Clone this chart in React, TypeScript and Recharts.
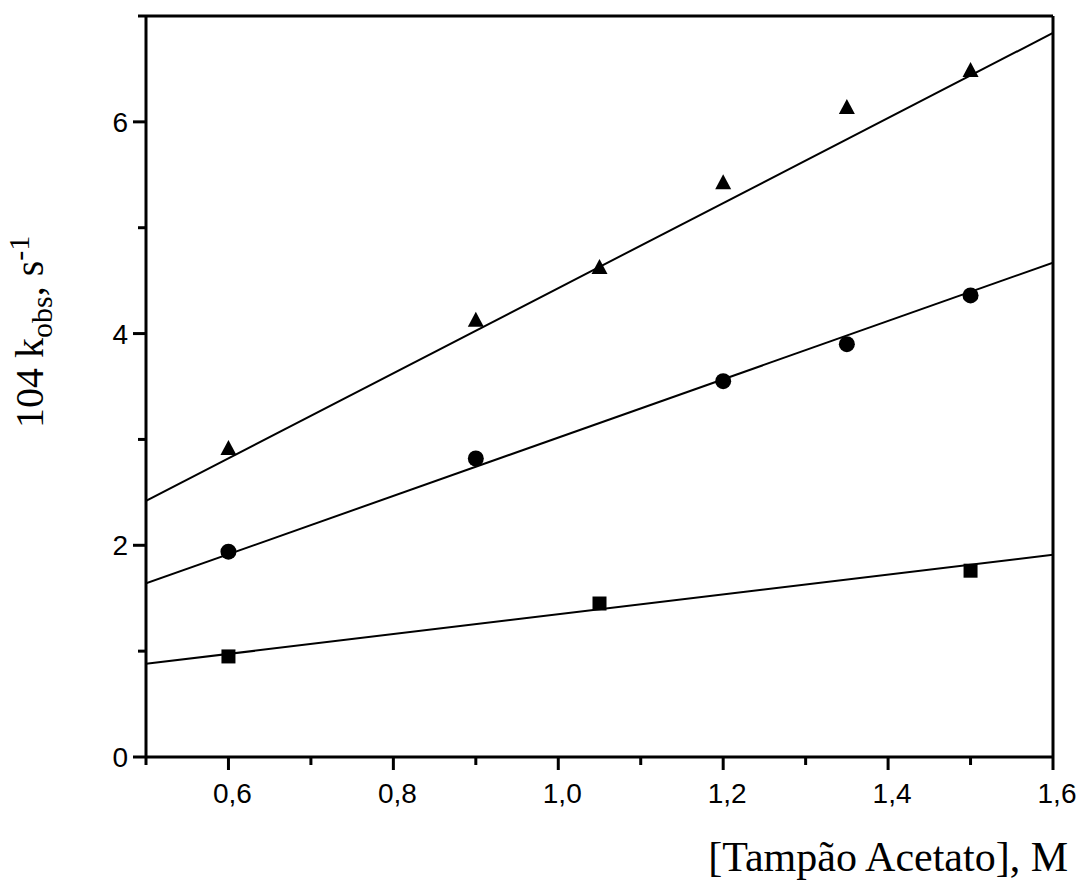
import React from 'react';
import {
  ComposedChart,
  Scatter,
  XAxis,
  YAxis,
  ReferenceLine,
  Label,
} from 'recharts';

// measured points
const triX = [0.6, 0.9, 1.05, 1.2, 1.35, 1.5];
const triY = [2.92, 4.13, 4.63, 5.43, 6.14, 6.49];
const circX = [0.6, 0.9, 1.2, 1.35, 1.5];
const circY = [1.94, 2.82, 3.55, 3.9, 4.36];
const sqX = [0.6, 1.05, 1.5];
const sqY = [0.95, 1.45, 1.76];

// fitted lines, endpoints at the axis limits
const fitX = [0.5, 1.6];
const fitTriY = [2.42, 6.84];
const fitCircY = [1.64, 4.67];
const fitSqY = [0.88, 1.91];

const xTicks = [0.5, 0.6, 0.7, 0.8, 0.9, 1.0, 1.1, 1.2, 1.3, 1.4, 1.5, 1.6];
const yTicks = [0, 1, 2, 3, 4, 5, 6, 7];

const toPoints = (xs: number[], ys: number[]) => xs.map((x, i) => ({ x, y: ys[i] }));

const triangles = toPoints(triX, triY);
const circles = toPoints(circX, circY);
const squares = toPoints(sqX, sqY);
const fitTri = toPoints(fitX, fitTriY);
const fitCirc = toPoints(fitX, fitCircY);
const fitSq = toPoints(fitX, fitSqY);

const tickFont = '"Liberation Sans", Arial, sans-serif';
const titleFont = '"Liberation Serif", "Times New Roman", serif';

const Triangle = (props: any) => {
  const { cx, cy } = props;
  return <path d={`M${cx},${cy - 8} L${cx + 8},${cy + 7} L${cx - 8},${cy + 7} Z`} fill="#000" />;
};
const Circle = (props: any) => <circle cx={props.cx} cy={props.cy} r={8} fill="#000" />;
const Square = (props: any) => (
  <rect x={props.cx - 7} y={props.cy - 7} width={14} height={14} fill="#000" />
);
const NoDot = () => <g />;

const XTick = (props: any) => {
  const { x, y, payload } = props;
  const major = Math.round(payload.value * 10) % 2 === 0;
  return (
    <g>
      <line x1={x} y1={y} x2={x} y2={y + (major ? 13 : 8)} stroke="#000" strokeWidth={3} />
      {major && (
        <text x={x + 4} y={y + 46} textAnchor="middle" fontFamily={tickFont} fontSize={28} fill="#000">
          {payload.value.toFixed(1).replace('.', ',')}
        </text>
      )}
    </g>
  );
};

const YTick = (props: any) => {
  const { x, y, payload } = props;
  const major = payload.value % 2 === 0;
  return (
    <g>
      <line x1={x} y1={y} x2={x - (major ? 13 : 8)} y2={y} stroke="#000" strokeWidth={3} />
      {major && (
        <text x={x - 18} y={y} dy="0.36em" textAnchor="end" fontFamily={tickFont} fontSize={28} fill="#000">
          {payload.value}
        </text>
      )}
    </g>
  );
};

export default function App() {
  return (
    <div style={{ position: 'absolute', left: 0, top: 0, background: '#fff' }}>
      <ComposedChart
        width={1084}
        height={884}
        margin={{ top: 16, right: 31, bottom: 0, left: 0 }}
      >
        <XAxis
          type="number"
          dataKey="x"
          domain={[0.5, 1.6]}
          ticks={xTicks}
          interval={0}
          allowDataOverflow
          height={127}
          tickSize={0}
          tickMargin={0}
          axisLine={{ stroke: '#000', strokeWidth: 3 }}
          tickLine={false}
          tick={<XTick />}
        >
          <Label
            content={(p: any) => {
              const vb = p.viewBox;
              return (
                <text
                  x={vb.x + vb.width + 15}
                  y={vb.y + 114}
                  textAnchor="end"
                  fontFamily={titleFont}
                  fontSize={42}
                  fill="#000"
                >
                  [Tampão Acetato], M
                </text>
              );
            }}
          />
        </XAxis>
        <YAxis
          type="number"
          dataKey="y"
          domain={[0, 7]}
          ticks={yTicks}
          interval={0}
          allowDataOverflow
          width={146}
          tickSize={0}
          tickMargin={0}
          axisLine={{ stroke: '#000', strokeWidth: 3 }}
          tickLine={false}
          tick={<YTick />}
        >
          <Label
            content={() => (
              <text
                x={43}
                y={428}
                transform="rotate(-90 43 428)"
                textAnchor="start"
                fontFamily={titleFont}
                fontSize={40}
                fill="#000"
              >
                104 k
                <tspan fontSize={30} dy={9}>obs</tspan>
                <tspan fontSize={40} dy={-9}>, s</tspan>
                <tspan fontSize={30} dy={-14}>-1</tspan>
              </text>
            )}
          />
        </YAxis>
        <ReferenceLine y={7} stroke="#000" strokeWidth={3} />
        <ReferenceLine x={1.6} stroke="#000" strokeWidth={3} />

        <Scatter data={fitTri} line={{ stroke: '#000', strokeWidth: 2 }} shape={<NoDot />} isAnimationActive={false} />
        <Scatter data={fitCirc} line={{ stroke: '#000', strokeWidth: 2 }} shape={<NoDot />} isAnimationActive={false} />
        <Scatter data={fitSq} line={{ stroke: '#000', strokeWidth: 2 }} shape={<NoDot />} isAnimationActive={false} />

        <Scatter data={triangles} shape={<Triangle />} isAnimationActive={false} />
        <Scatter data={circles} shape={<Circle />} isAnimationActive={false} />
        <Scatter data={squares} shape={<Square />} isAnimationActive={false} />
      </ComposedChart>
    </div>
  );
}
